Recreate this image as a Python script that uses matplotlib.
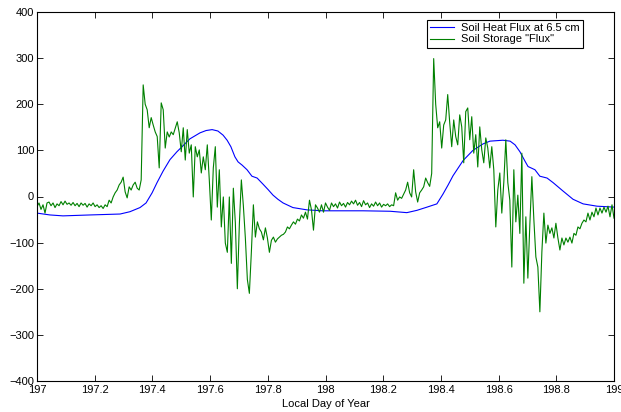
import numpy as np
import matplotlib
matplotlib.use("Agg")
import matplotlib.pyplot as plt
from matplotlib.ticker import FuncFormatter

# ---- data ----
# Soil Storage "Flux": 10-minute samples starting at day 197.0
storage_flux = [
    -22, -14, -28, -18, -36, -14, -12, -20, -14, -24, -16, -20, -11, -18, -10, -17,
    -14, -19, -13, -20, -15, -22, -14, -19, -15, -23, -16, -20, -14, -22, -18, -24,
    -20, -26, -18, -22, -8, -14, -1, 8, 14, 25, 31, 42, 10, -3, 21, 14,
    25, 31, 18, 14, 36, 242, 200, 188, 149, 171, 155, 140, 130, 62, 203, 188,
    105, 140, 129, 140, 134, 148, 162, 138, 97, 149, 79, 145, 94, 112, -1, 108,
    86, 101, 51, 86, 58, 112, 36, -51, 62, 108, -23, 58, -66, -1, -101, -121,
    -1, -145, 18, -57, -200, -60, 36, -20, -90, -180, -210, -120, -18, -88, -55, -70,
    -77, -94, -68, -90, -121, -95, -88, -99, -92, -88, -84, -82, -77, -66, -70, -62,
    -55, -60, -49, -53, -40, -47, -34, -49, -8, -29, -73, -18, -25, -34, -18, -34,
    -14, -23, -30, -14, -22, -16, -25, -12, -20, -15, -23, -13, -18, -10, -16, -8,
    -19, -13, -22, -9, -18, -14, -24, -16, -21, -12, -20, -14, -23, -17, -20, -16,
    -22, -18, -20, 8, -8, -1, -4, 5, 14, 31, 8, -1, 58, 10, -12, 8,
    14, 21, 40, 30, 22, 50, 299, 200, 149, 162, 105, 155, 166, 221, 160, 108,
    166, 130, 112, 177, 151, 73, 184, 192, 123, 173, 94, 134, 64, 151, 101, 73,
    127, 105, 62, 108, 58, -66, 14, 51, -36, 31, 123, 30, -8, -153, 58, -55,
    3, -80, 94, -188, -44, -177, -60, 43, -50, -131, -153, -250, -120, -36, -101, -62,
    -80, -68, -90, -58, -90, -116, -90, -105, -90, -99, -88, -101, -80, -84, -66, -70,
    -58, -51, -55, -36, -51, -34, -44, -25, -40, -25, -36, -23, -34, -21, -44, -18,
    -47,
]
samples_per_day = 144
start_day = 197.0

# Soil Heat Flux at 6.5 cm (smooth curve, knots)
heat_day = [
    197.000, 197.045, 197.090, 197.184, 197.288, 197.322, 197.357, 197.378, 197.399,
    197.416, 197.437, 197.461, 197.485, 197.506, 197.530, 197.565, 197.586, 197.607,
    197.627, 197.645, 197.659, 197.672, 197.686, 197.697, 197.711, 197.728, 197.745,
    197.763, 197.783, 197.801, 197.818, 197.835, 197.853, 197.887, 197.936, 197.991,
    198.050, 198.130, 198.224, 198.282, 198.317, 198.352, 198.386, 198.407, 198.425,
    198.442, 198.477, 198.511, 198.546, 198.570, 198.615, 198.640, 198.657, 198.674,
    198.692, 198.702, 198.726, 198.743, 198.768, 198.789, 198.823, 198.858, 198.893,
    198.941, 199.000,
]
heat_flux = [
    -36, -40, -42, -40, -38, -33, -24, -14, 8,
    30, 55, 80, 97, 110, 125, 138, 143, 145,
    142, 133, 122, 108, 86, 75, 68, 58, 44,
    40, 27, 15, 3, -6, -14, -24, -29, -31,
    -31, -31, -32, -35, -30, -23, -16, 5, 25,
    45, 78, 100, 114, 120, 122, 120, 112, 97,
    76, 65, 58, 44, 40, 30, 12, -6, -16,
    -21, -23,
]

legend_labels = ["Soil Heat Flux at 6.5 cm", 'Soil Storage "Flux"']
x_label = "Local Day of Year"
x_ticks = [197, 197.2, 197.4, 197.6, 197.8, 198, 198.2, 198.4, 198.6, 198.8, 199]
y_ticks = [-400, -300, -200, -100, 0, 100, 200, 300, 400]

# ---- plotting ----
plt.rcParams['font.family'] = ['Liberation Sans', 'DejaVu Sans']
fig = plt.figure(figsize=(6.21, 4.12), dpi=100)
ax = fig.add_axes([37/621, 1-381/412, (614-37)/621, (381-12)/412])

storage_day = start_day + np.arange(len(storage_flux)) / samples_per_day
ax.plot(heat_day, heat_flux, color='#0000ff', lw=0.8, label=legend_labels[0])
ax.plot(storage_day, storage_flux, color='#008000', lw=0.8, label=legend_labels[1])

ax.set_xlim(197, 199)
ax.set_ylim(-400, 400)
ax.set_xticks(x_ticks)
ax.set_yticks(y_ticks)
ax.xaxis.set_major_formatter(FuncFormatter(lambda v, p: f"{v:g}"))
ax.yaxis.set_major_formatter(FuncFormatter(lambda v, p: f"{int(v)}".replace('-', '\u2212')))
ax.tick_params(direction='in', top=True, right=True, labelsize=8, length=4, width=0.6)
ax.tick_params(axis='x', pad=3)
ax.tick_params(axis='y', pad=2)
for s in ax.spines.values():
    s.set_linewidth(0.8)
ax.set_xlabel(x_label, fontsize=8, labelpad=3)

leg = ax.legend(loc='upper right', bbox_to_anchor=((583-37)/577, (381-20)/369),
                fontsize=8, frameon=True, fancybox=False, framealpha=1,
                edgecolor='black', borderpad=0.3, labelspacing=0.1,
                handlelength=2.2, handletextpad=0.6, borderaxespad=0)
leg.get_frame().set_linewidth(0.8)

fig.savefig("out.png", dpi=100)
